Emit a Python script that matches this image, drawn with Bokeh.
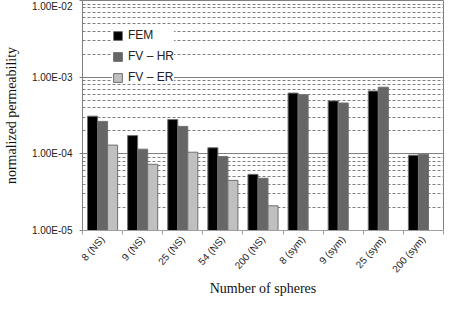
from bokeh.plotting import figure
from bokeh.models import (Range1d, FixedTicker, CustomJSTickFormatter, Legend, LegendItem)
from bokeh.embed import file_html
from bokeh.resources import INLINE

categories = ["8 (NS)", "9 (NS)", "25 (NS)", "54 (NS)", "200 (NS)",
              "8 (sym)", "9 (sym)", "25 (sym)", "200 (sym)"]
fem = [3.1e-4, 1.73e-4, 2.8e-4, 1.2e-4, 5.4e-5, 6.2e-4, 4.9e-4, 6.6e-4, 9.6e-5]
fv_hr = [2.65e-4, 1.15e-4, 2.28e-4, 9.2e-5, 4.8e-5, 5.9e-4, 4.6e-4, 7.4e-4, 9.9e-5]
fv_er = [1.3e-4, 7.3e-5, 1.05e-4, 4.5e-5, 2.1e-5, float("nan"), float("nan"), float("nan"), float("nan")]
series_names = ["FEM", "FV \u2013 HR", "FV \u2013 ER"]
series_colors = ["#000000", "#666666", "#c0c0c0"]
y_major = [1e-5, 1e-4, 1e-3, 1e-2]
x_title = "Number of spheres"
y_title = "normalized permeability"

n = len(categories)
y_min, y_max = y_major[0], y_major[-1]

p = figure(width=447, height=299, output_backend="svg", toolbar_location=None,
           y_axis_type="log", x_range=Range1d(0, n), y_range=Range1d(y_min, y_max),
           min_border_left=69, min_border_right=4, min_border_top=0, min_border_bottom=40)
p.background_fill_color = "white"
p.border_fill_color = "white"
p.outline_line_color = "#808080"

centers = [i + 0.5 for i in range(n)]
bar_w = 0.25
items = []
for k, (vals, name, col) in enumerate(zip([fem, fv_hr, fv_er], series_names, series_colors)):
    xs = [c + (k - 1) * bar_w for c in centers]
    r = p.vbar(x=xs, top=vals, bottom=y_min, width=bar_w, fill_color=col,
               line_color="#707070", line_width=1)
    items.append(LegendItem(label=name, renderers=[r]))

legend = Legend(items=items, location=(30, 146), background_fill_color="white",
                background_fill_alpha=1, border_line_color=None,
                glyph_width=11, glyph_height=11, label_text_font="Liberation Sans",
                label_text_font_size="12px", label_text_color="#222222",
                spacing=7, padding=6, label_standoff=5, label_height=11)
p.add_layout(legend)

# X axis
p.xaxis.ticker = FixedTicker(ticks=centers, minor_ticks=list(range(n + 1)))
p.xaxis.formatter = CustomJSTickFormatter(args=dict(labels=categories),
                                          code="return labels[Math.floor(tick)];")
p.xaxis.major_tick_line_color = None
p.xaxis.major_tick_out = 0
p.xaxis.major_tick_in = 0
p.xaxis.minor_tick_line_color = "#a0a0a0"
p.xaxis.minor_tick_out = 4
p.xaxis.minor_tick_in = 0
p.xaxis.axis_line_color = "#a0a0a0"
p.xaxis.major_label_orientation = 0.85
p.xaxis.major_label_standoff = 3
p.xaxis.major_label_text_font = "Liberation Sans"
p.xaxis.major_label_text_font_size = "10px"
p.xaxis.major_label_text_line_height = 0.7
p.xaxis.major_label_text_color = "#222222"
p.xaxis.axis_label = x_title
p.xaxis.axis_label_text_font = "Liberation Serif"
p.xaxis.axis_label_text_font_style = "normal"
p.xaxis.axis_label_text_font_size = "14px"
p.xaxis.axis_label_text_line_height = 0.8
p.xaxis.axis_label_standoff = 0
p.xaxis.axis_label_text_color = "#111111"
p.xgrid.grid_line_color = None

# Y axis
minor = []
for e in range(-5, -2):
    for m in range(2, 10):
        minor.append(m * 10.0 ** e)
p.yaxis.ticker = FixedTicker(ticks=y_major, minor_ticks=minor)
p.yaxis.formatter = CustomJSTickFormatter(code="""
const e = Math.round(Math.log10(tick));
const a = Math.abs(e);
return '1.00E' + (e < 0 ? '-' : '+') + (a < 10 ? '0' : '') + a;
""")
p.yaxis.major_label_text_font = "Liberation Sans"
p.yaxis.major_label_text_font_size = "10px"
p.yaxis.major_label_text_color = "#222222"
p.yaxis.major_label_standoff = 6
p.yaxis.major_tick_line_color = "#808080"
p.yaxis.major_tick_out = 3
p.yaxis.major_tick_in = 0
p.yaxis.minor_tick_line_color = None
p.yaxis.axis_line_color = "#808080"
p.yaxis.axis_label = y_title
p.yaxis.axis_label_text_font = "Liberation Serif"
p.yaxis.axis_label_text_font_style = "normal"
p.yaxis.axis_label_text_font_size = "14px"
p.yaxis.axis_label_standoff = 10
p.yaxis.axis_label_text_color = "#111111"

p.ygrid.grid_line_color = "#808080"
p.ygrid.grid_line_width = 1
p.ygrid.minor_grid_line_color = "#808080"
p.ygrid.minor_grid_line_dash = "3 2"
p.ygrid.minor_grid_line_width = 1

open("out.html", "w").write(file_html(p, INLINE))
